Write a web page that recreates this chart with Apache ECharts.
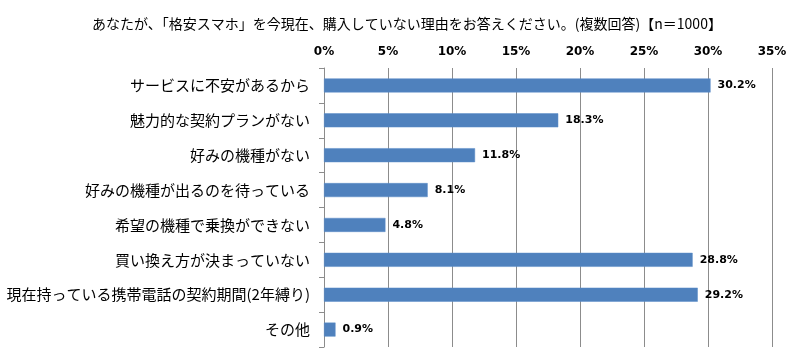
<!DOCTYPE html>
<html><head><meta charset="utf-8">
<script src="https://cdn.jsdelivr.net/npm/echarts@6/dist/echarts.min.js"></script>
<style>html,body{margin:0;padding:0;background:#fff}#c{width:800px;height:362px}</style>
</head><body><div id="c"></div>
<script>
const titleText = 'あなたが、「格安スマホ」を今現在、購入していない理由をお答えください。(複数回答)【n＝1000】';
const categories = [
  'サービスに不安があるから',
  '魅力的な契約プランがない',
  '好みの機種がない',
  '好みの機種が出るのを待っている',
  '希望の機種で乗換ができない',
  '買い換え方が決まっていない',
  '現在持っている携帯電話の契約期間(2年縛り)',
  'その他'
];
const values = [30.2, 18.3, 11.8, 8.1, 4.8, 28.8, 29.2, 0.9];
const axisMin = 0, axisMax = 35, axisStep = 5;

const chart = echarts.init(document.getElementById('c'), null, {renderer: 'canvas'});
const jp = '"Noto Sans CJK JP", sans-serif';
chart.setOption({
  animation: false,
  backgroundColor: '#fff',
  title: {
    text: titleText, left: 402, top: 12, textAlign: 'center',
    textStyle: {fontFamily: jp, fontSize: 14, fontWeight: 'normal', color: '#000'}
  },
  grid: {left: 324, right: 28, top: 68, bottom: 15, containLabel: false},
  xAxis: {
    type: 'value', position: 'top', min: axisMin, max: axisMax, interval: axisStep,
    axisLine: {show: false}, axisTick: {show: false},
    axisLabel: {formatter: v => v + '%', fontFamily: '"DejaVu Sans", sans-serif', fontSize: 12, fontWeight: 'bold', color: '#000', margin: 10},
    splitLine: {show: true, lineStyle: {color: '#8c8c8c', width: 1}}
  },
  yAxis: {
    type: 'category', data: categories, inverse: true,
    axisLine: {show: true, lineStyle: {color: '#8c8c8c', width: 1}},
    axisTick: {show: true, length: 5, lineStyle: {color: '#8c8c8c'}},
    axisLabel: {fontFamily: jp, fontSize: 15, color: '#000', margin: 14}
  },
  series: [{
    type: 'bar', data: values, barWidth: 14,
    itemStyle: {color: '#4F81BD', borderColor: '#5b8cc8', borderWidth: 0.5},
    label: {show: true, position: 'right', distance: 7, formatter: p => p.value.toFixed(1) + '%',
      fontFamily: '"DejaVu Sans", sans-serif', fontSize: 11, fontWeight: 'bold', color: '#000'}
  }]
});
</script></body></html>
